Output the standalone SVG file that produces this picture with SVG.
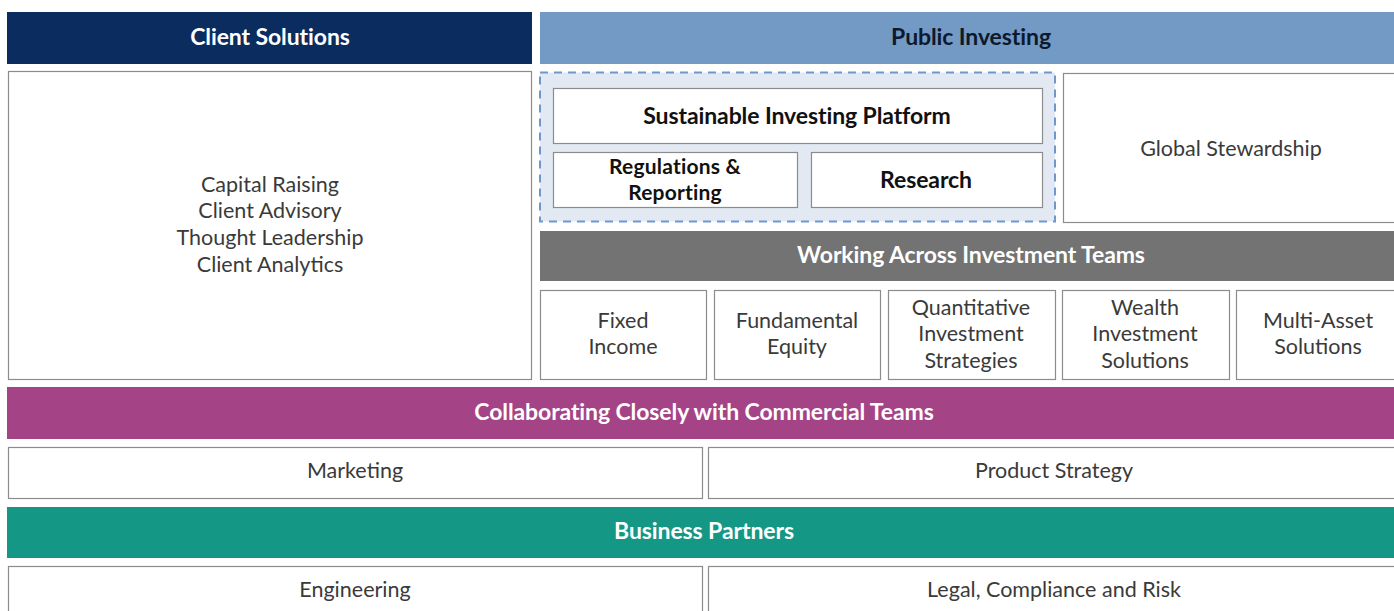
<svg xmlns="http://www.w3.org/2000/svg" width="1394" height="611" viewBox="0 0 1394 611">
  <style>
    .hdr-t { font-family: Lato, "Open Sans", sans-serif; font-weight: 700; font-size: 23px; fill: #ffffff; text-anchor: middle; letter-spacing: -0.1px; }
    .box { fill: #ffffff; stroke: #8c8c8c; stroke-width: 1.2; }
    .lbl { font-family: Lato, "Open Sans", sans-serif; font-size: 21.5px; fill: #3a3a3a; text-anchor: middle; }
    .blbl { font-family: Lato, "Open Sans", sans-serif; font-weight: 700; font-size: 23px; fill: #111111; text-anchor: middle; letter-spacing: -0.1px; }
    .blbl-sm { font-size: 21px; letter-spacing: 0.2px; }
  </style>
  <rect width="1394" height="611" fill="#ffffff"/>

  <!-- Client Solutions column -->
  <g id="client-solutions">
    <rect x="7" y="12" width="525" height="52" fill="#0b2c5f"/>
    <text class="hdr-t" x="270" y="45">Client Solutions</text>
  </g>
  <g id="client-services">
    <rect class="box" x="8.5" y="71.5" width="523" height="308"/>
    <text class="lbl" x="270" y="192">Capital Raising</text>
    <text class="lbl" x="270" y="218">Client Advisory</text>
    <text class="lbl" x="270" y="245">Thought Leadership</text>
    <text class="lbl" x="270" y="272">Client Analytics</text>
  </g>

  <!-- Public Investing column -->
  <g id="public-investing">
    <rect x="540" y="12" width="854" height="52" fill="#7399c5"/>
    <text class="hdr-t" x="971" y="45" style="fill:#0d1a2e">Public Investing</text>
  </g>
  <g id="sustainable-group">
    <rect x="540" y="72.5" width="515" height="149" fill="#e3e9f2" stroke="#6f97cc" stroke-width="2" stroke-dasharray="8,6"/>
  </g>
  <g id="sustainable-platform">
    <rect class="box" x="553.5" y="88.5" width="489" height="55"/>
    <text class="blbl" x="797" y="124">Sustainable Investing Platform</text>
  </g>
  <g id="regulations-reporting">
    <rect class="box" x="553.5" y="152.5" width="244" height="55"/>
    <text class="blbl blbl-sm" x="675" y="174">Regulations &amp;</text>
    <text class="blbl blbl-sm" x="675" y="200">Reporting</text>
  </g>
  <g id="research">
    <rect class="box" x="811.5" y="152.5" width="231" height="55"/>
    <text class="blbl" x="926" y="188">Research</text>
  </g>
  <g id="global-stewardship">
    <rect class="box" x="1063.5" y="73.5" width="334" height="149"/>
    <text class="lbl" x="1231" y="156">Global Stewardship</text>
  </g>

  <g id="investment-teams">
    <rect x="540" y="231" width="854" height="50" fill="#737373"/>
    <text class="hdr-t" x="971" y="263">Working Across Investment Teams</text>
  </g>
  <g id="fixed-income">
    <rect class="box" x="540.5" y="290.5" width="166" height="89"/>
    <text class="lbl" x="623" y="328">Fixed</text>
    <text class="lbl" x="623" y="354">Income</text>
  </g>
  <g id="fundamental-equity">
    <rect class="box" x="714.5" y="290.5" width="166" height="89"/>
    <text class="lbl" x="797" y="328">Fundamental</text>
    <text class="lbl" x="797" y="354">Equity</text>
  </g>
  <g id="quantitative">
    <rect class="box" x="888.5" y="290.5" width="167" height="89"/>
    <text class="lbl" x="971" y="315">Quantitative</text>
    <text class="lbl" x="971" y="341">Investment</text>
    <text class="lbl" x="971" y="368">Strategies</text>
  </g>
  <g id="wealth">
    <rect class="box" x="1062.5" y="290.5" width="167" height="89"/>
    <text class="lbl" x="1145" y="315">Wealth</text>
    <text class="lbl" x="1145" y="341">Investment</text>
    <text class="lbl" x="1145" y="368">Solutions</text>
  </g>
  <g id="multi-asset">
    <rect class="box" x="1236.5" y="290.5" width="161" height="89"/>
    <text class="lbl" x="1318" y="328">Multi-Asset</text>
    <text class="lbl" x="1318" y="354">Solutions</text>
  </g>

  <!-- Commercial teams band -->
  <g id="commercial-teams">
    <rect x="7" y="387" width="1387" height="52" fill="#a54387"/>
    <text class="hdr-t" x="704" y="420">Collaborating Closely with Commercial Teams</text>
  </g>
  <g id="marketing">
    <rect class="box" x="8.5" y="447.5" width="694" height="51"/>
    <text class="lbl" x="355" y="478">Marketing</text>
  </g>
  <g id="product-strategy">
    <rect class="box" x="708.5" y="447.5" width="689" height="51"/>
    <text class="lbl" x="1054" y="478">Product Strategy</text>
  </g>

  <!-- Business partners band -->
  <g id="business-partners">
    <rect x="7" y="507" width="1387" height="51" fill="#159786"/>
    <text class="hdr-t" x="704" y="539">Business Partners</text>
  </g>
  <g id="engineering">
    <rect class="box" x="8.5" y="566.5" width="694" height="51"/>
    <text class="lbl" x="355" y="597">Engineering</text>
  </g>
  <g id="legal">
    <rect class="box" x="708.5" y="566.5" width="689" height="51"/>
    <text class="lbl" x="1054" y="597">Legal, Compliance and Risk</text>
  </g>

  <g id="connectors"/>
</svg>
